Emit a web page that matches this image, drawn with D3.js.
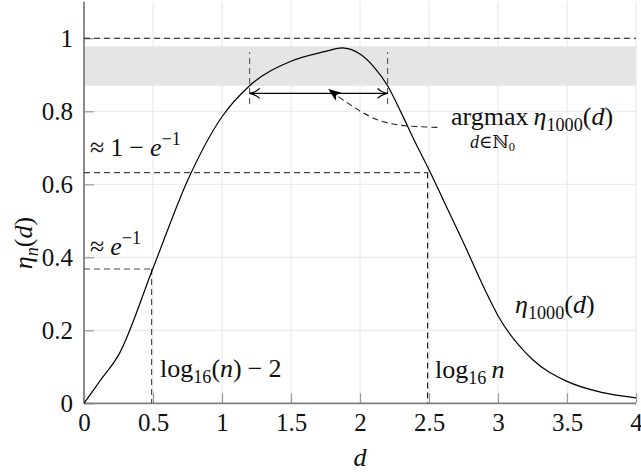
<!DOCTYPE html>
<html lang="en">
<head>
    <meta charset="UTF-8">
    <title>eta_n(d)</title>
    <script src="https://d3js.org/d3.v7.min.js"></script>
    <style>
        body { margin: 0; background: #fff; }
        text { font-family: "Liberation Serif", "DejaVu Serif", serif; fill: #111; }
        .it { font-style: italic; }
        .tick text { font-size: 25px; }
    </style>
</head>
<body>
    <div id="chart"></div>
    <script>
        // curve eta_1000(d)
        const dValues = [0, 0.125, 0.25, 0.5, 0.75, 1.0, 1.2, 1.5, 1.75, 1.87, 2.0, 2.1, 2.2, 2.3, 2.4, 2.5, 2.6, 2.75, 2.9, 3.0, 3.25, 3.5, 3.75, 4.0];
        const etaValues = [0, 0.066, 0.132, 0.37, 0.61, 0.785, 0.87, 0.937, 0.964, 0.974, 0.957, 0.922, 0.87, 0.795, 0.715, 0.64, 0.56, 0.44, 0.315, 0.24, 0.12, 0.06, 0.03, 0.015];

        const xTicks = [0, 0.5, 1, 1.5, 2, 2.5, 3, 3.5, 4];
        const yTicks = [0, 0.2, 0.4, 0.6, 0.8, 1];

        // reference values
        const eInv = 0.368;
        const oneMinusEInv = 0.632;
        const logN = 2.49;          // log16(1000)
        const logNm2 = 0.49;        // log16(1000) - 2
        const band = [0.87, 0.978];
        const rangeD = [1.2, 2.2];
        const rangeY = 0.849;
        const rangeTicks = [0.82, 0.962];
        // dashed pointer from the argmax label to the arrow
        const pointerD = [2.56, 2.29, 2.13, 2.0, 1.89, 1.77];
        const pointerY = [0.756, 0.762, 0.776, 0.801, 0.828, 0.861];

        const width = 641, height = 474;
        const x = d3.scaleLinear().domain([0, 4]).range([84, 636]);
        const y = d3.scaleLinear().domain([0, 1.1]).range([403.3, 1.8]);

        const svg = d3.select("#chart").append("svg")
            .attr("width", width).attr("height", height);

        const defs = svg.append("defs");
        defs.append("marker").attr("id", "open")
            .attr("viewBox", "0 -6 12 12").attr("refX", 11).attr("refY", 0)
            .attr("markerWidth", 12).attr("markerHeight", 12).attr("markerUnits", "userSpaceOnUse")
            .attr("orient", "auto-start-reverse")
            .append("path").attr("d", "M1,-5 Q5,-1 11,0 Q5,1 1,5")
            .attr("fill", "none").attr("stroke", "#000").attr("stroke-width", 1.3);
        defs.append("marker").attr("id", "stealth")
            .attr("viewBox", "0 -6 14 12").attr("refX", 13).attr("refY", 0)
            .attr("markerWidth", 14).attr("markerHeight", 12).attr("markerUnits", "userSpaceOnUse")
            .attr("orient", "auto")
            .append("path").attr("d", "M0,-5 L13,0 L0,5 L3,0 Z").attr("fill", "#000");

        // grid
        svg.append("g").selectAll("line").data(xTicks).join("line")
            .attr("x1", d => x(d)).attr("x2", d => x(d))
            .attr("y1", y(0)).attr("y2", y(1.1))
            .attr("stroke", "#e6e6e6").attr("stroke-width", 1);
        svg.append("g").selectAll("line").data(yTicks).join("line")
            .attr("x1", x(0)).attr("x2", x(4))
            .attr("y1", d => y(d)).attr("y2", d => y(d))
            .attr("stroke", "#e6e6e6").attr("stroke-width", 1);

        // grey band
        svg.append("rect")
            .attr("x", x(0)).attr("width", x(4) - x(0))
            .attr("y", y(band[1])).attr("height", y(band[0]) - y(band[1]))
            .attr("fill", "#e5e5e5");

        // axes
        const xAxis = svg.append("g").attr("transform", `translate(0,${y(0)})`)
            .call(d3.axisBottom(x).tickValues(xTicks).tickSize(-10).tickPadding(10)
                .tickFormat(d3.format("")));
        const yAxis = svg.append("g").attr("transform", `translate(${x(0)},0)`)
            .call(d3.axisLeft(y).tickValues(yTicks).tickSize(-10).tickPadding(11)
                .tickFormat(d3.format("")));
        [xAxis, yAxis].forEach(a => {
            a.attr("font-size", null).attr("font-family", null);
            a.select(".domain").remove();
            a.selectAll(".tick line").attr("stroke", "#999").attr("stroke-width", 1.2);
            a.selectAll(".tick text").attr("fill", "#111");
        });
        yAxis.selectAll(".tick text").attr("dy", "0.34em");
        svg.append("line").attr("x1", x(0)).attr("x2", x(0)).attr("y1", y(0)).attr("y2", y(1.1))
            .attr("stroke", "#808080").attr("stroke-width", 1.8);
        svg.append("line").attr("x1", x(0)).attr("x2", x(4)).attr("y1", y(0)).attr("y2", y(0))
            .attr("stroke", "#808080").attr("stroke-width", 1.8);

        // dashed helper lines
        const dash = (x1, y1, x2, y2, color) => svg.append("line")
            .attr("x1", x(x1)).attr("y1", y(y1)).attr("x2", x(x2)).attr("y2", y(y2))
            .attr("stroke", color).attr("stroke-width", 1.1).attr("stroke-dasharray", "6,4");
        dash(0, 1, 4, 1, "#111");
        dash(0, oneMinusEInv, logN, oneMinusEInv, "#444");
        dash(logN, oneMinusEInv, logN, 0, "#111");
        dash(0, eInv, logNm2, eInv, "#444");
        dash(logNm2, eInv, logNm2, 0, "#444");
        rangeD.forEach(d => dash(d, rangeTicks[0], d, rangeTicks[1], "#555"));

        // main curve
        const line = d3.line().x((d, i) => x(d)).y((d, i) => y(etaValues[i]))
            .curve(d3.curveMonotoneX);
        svg.append("path").attr("d", line(dValues))
            .attr("fill", "none").attr("stroke", "#000").attr("stroke-width", 1.2);

        // double arrow for the range
        svg.append("line")
            .attr("x1", x(rangeD[0])).attr("x2", x(rangeD[1]))
            .attr("y1", y(rangeY)).attr("y2", y(rangeY))
            .attr("stroke", "#000").attr("stroke-width", 1.3)
            .attr("marker-start", "url(#open)").attr("marker-end", "url(#open)");

        // pointer
        const pLine = d3.line().x(d => x(d)).y((d, i) => y(pointerY[i])).curve(d3.curveCatmullRom);
        svg.append("path").attr("d", pLine(pointerD))
            .attr("fill", "none").attr("stroke", "#222").attr("stroke-width", 1.1)
            .attr("stroke-dasharray", "6,4").attr("marker-end", "url(#stealth)");

        // labels
        function label(px, py, parts, size) {
            size = size || 26;
            const t = svg.append("text").attr("x", px).attr("y", py).attr("font-size", size);
            parts.forEach(p => {
                const s = t.append("tspan").text(p.t);
                if (p.i) s.attr("class", "it");
                if (p.sub) s.attr("font-size", size * 0.7).attr("dy", p.sub);
                if (p.sup) s.attr("font-size", size * 0.7).attr("dy", p.sup);
                if (p.back) s.attr("dy", p.back);
                if (p.dx) s.attr("dx", p.dx);
            });
            return t;
        }
        label(90, 156, [{t: "≈"}, {t: "1", dx: 6}, {t: "−", dx: 6}, {t: "e", i: 1, dx: 6}, {t: "−1", sup: -11}]);
        label(90, 255, [{t: "≈"}, {t: "e", i: 1, dx: 6}, {t: "−1", sup: -11}]);
        label(160, 377, [{t: "log"}, {t: "16", sub: 6}, {t: "(", back: -6}, {t: "n", i: 1}, {t: ")"}, {t: "−", dx: 6}, {t: "2", dx: 6}]);
        label(435, 378, [{t: "log"}, {t: "16", sub: 6}, {t: "n", i: 1, back: -6, dx: 5}]);
        label(515, 313, [{t: "η", i: 1}, {t: "1000", sub: 6}, {t: "(", back: -6}, {t: "d", i: 1}, {t: ")"}]);
        label(451, 125, [{t: "argmax"}, {t: "η", i: 1, dx: 5}, {t: "1000", sub: 6}, {t: "(", back: -6}, {t: "d", i: 1}, {t: ")"}]);
        label(470, 148, [{t: "d", i: 1}, {t: "∈ℕ"}, {t: "0", sub: 3}], 18);

        // axis labels
        svg.append("text").attr("x", 360).attr("y", 466).attr("text-anchor", "middle")
            .attr("font-size", 26).attr("class", "it").text("d");
        label(0, 0, [{t: "η", i: 1}, {t: "n", i: 1, sub: 6}, {t: "(", back: -6}, {t: "d", i: 1}, {t: ")"}], 26)
            .attr("text-anchor", "middle")
            .attr("transform", "translate(32,243) rotate(-90)");
    </script>
</body>
</html>
